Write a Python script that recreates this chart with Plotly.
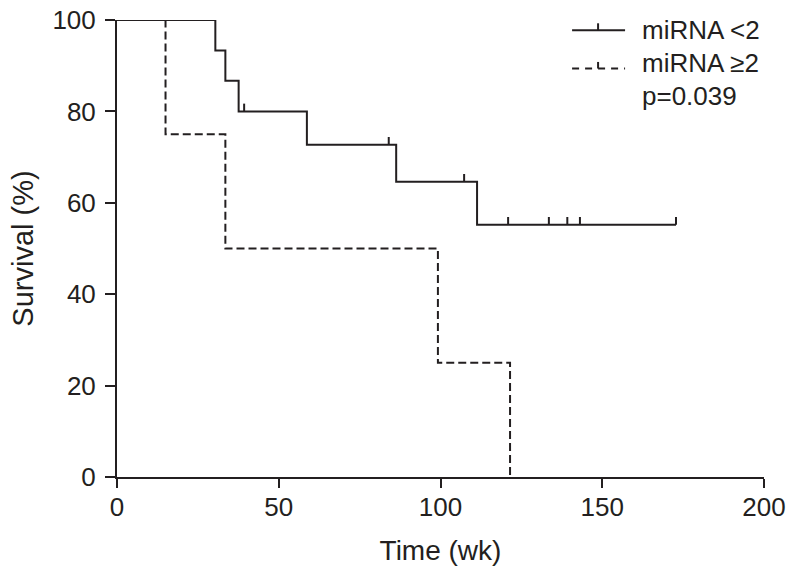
import numpy as np
import plotly.graph_objects as go

# ---- data ----
low_event_times = [0, 30.4, 33.5, 37.6, 58.7, 86.3, 111.3, 172.8]
low_survival = [100, 93.3, 86.7, 80.0, 72.7, 64.6, 55.2, 55.2]
low_censor_times = [39.3, 84.0, 107.3, 120.9, 133.5, 139.2, 143.1, 172.8]

high_event_times = [0, 15.0, 33.5, 99.2, 121.5]
high_survival = [100, 75.0, 50.0, 25.0, 0.0]

x_ticks = [0, 50, 100, 150, 200]
y_ticks = [0, 20, 40, 60, 80, 100]
legend_labels = ["miRNA <2", "miRNA \u22652", "p=0.039"]

INK = "#231f20"
FONT = "Liberation Sans, Arial, Helvetica, sans-serif"
CENSOR_H = 1.7  # tick height in survival units


def surv_at(t, times, surv):
    idx = np.searchsorted(np.array(times), t, side="right") - 1
    return surv[max(idx, 0)]


fig = go.Figure()

fig.add_trace(go.Scatter(
    x=high_event_times, y=high_survival, mode="lines", line_shape="hv",
    line=dict(color=INK, width=2, dash="8px,4px"), cliponaxis=False,
    hoverinfo="skip", showlegend=False))

fig.add_trace(go.Scatter(
    x=low_event_times, y=low_survival, mode="lines", line_shape="hv",
    line=dict(color=INK, width=2), cliponaxis=False,
    hoverinfo="skip", showlegend=False))

cx, cy = [], []
for c in low_censor_times:
    s = surv_at(c, low_event_times, low_survival)
    cx += [c, c, None]
    cy += [s, s + CENSOR_H, None]
fig.add_trace(go.Scatter(
    x=cx, y=cy, mode="lines", line=dict(color=INK, width=2),
    cliponaxis=False, hoverinfo="skip", showlegend=False))

# ---- hand-drawn legend ----
L, W, T, H = 116.7, 647.3, 19.7, 457.6


def px(xp):
    return (xp - L) / W


def py(yp):
    return (T + H - yp) / H


shapes = [
    dict(type="line", xref="paper", yref="paper", x0=px(572), x1=px(625),
         y0=py(30), y1=py(30), line=dict(color=INK, width=2)),
    dict(type="line", xref="paper", yref="paper", x0=px(598), x1=px(598),
         y0=py(30), y1=py(23), line=dict(color=INK, width=2)),
    dict(type="line", xref="paper", yref="paper", x0=px(572), x1=px(625),
         y0=py(68.3), y1=py(68.3), line=dict(color=INK, width=2, dash="7px,6px")),
    dict(type="line", xref="paper", yref="paper", x0=px(598), x1=px(598),
         y0=py(68.3), y1=py(61.7), line=dict(color=INK, width=2)),
]
annotations = []
for lab, yc in zip(legend_labels, [30, 62.5, 95.5]):
    annotations.append(dict(
        text=lab, xref="paper", yref="paper", x=px(640), y=py(yc),
        xanchor="left", yanchor="middle", showarrow=False,
        font=dict(size=26, color=INK, family=FONT)))

fig.update_layout(
    width=797, height=577,
    margin=dict(l=117, r=33, t=20, b=100, autoexpand=False),
    paper_bgcolor="white", plot_bgcolor="white",
    font=dict(family=FONT, color=INK, size=26),
    shapes=shapes, annotations=annotations,
    showlegend=False,
)
fig.update_xaxes(
    range=[0, 200], tickvals=x_ticks, ticktext=[str(v) for v in x_ticks],
    showgrid=False, zeroline=False, showline=True, linecolor=INK, linewidth=2,
    ticks="outside", ticklen=9, tickwidth=2, tickcolor=INK, automargin=False,
    ticklabelstandoff=-3,
    tickfont=dict(size=26, color=INK, family=FONT),
    title=dict(text="Time (wk)", font=dict(size=28, color=INK, family=FONT), standoff=19),
)
fig.update_yaxes(
    range=[0, 100], tickvals=y_ticks, ticktext=[str(v) for v in y_ticks],
    showgrid=False, zeroline=False, showline=True, linecolor=INK, linewidth=2,
    ticks="outside", ticklen=10, tickwidth=2, tickcolor=INK, automargin=False,
    ticklabelstandoff=4,
    tickfont=dict(size=26, color=INK, family=FONT),
    title=dict(text="Survival (%)", font=dict(size=29, color=INK, family=FONT), standoff=10),
)

fig.write_html("out.html", config={"displayModeBar": False},
               post_script="document.body.style.margin='0';")
